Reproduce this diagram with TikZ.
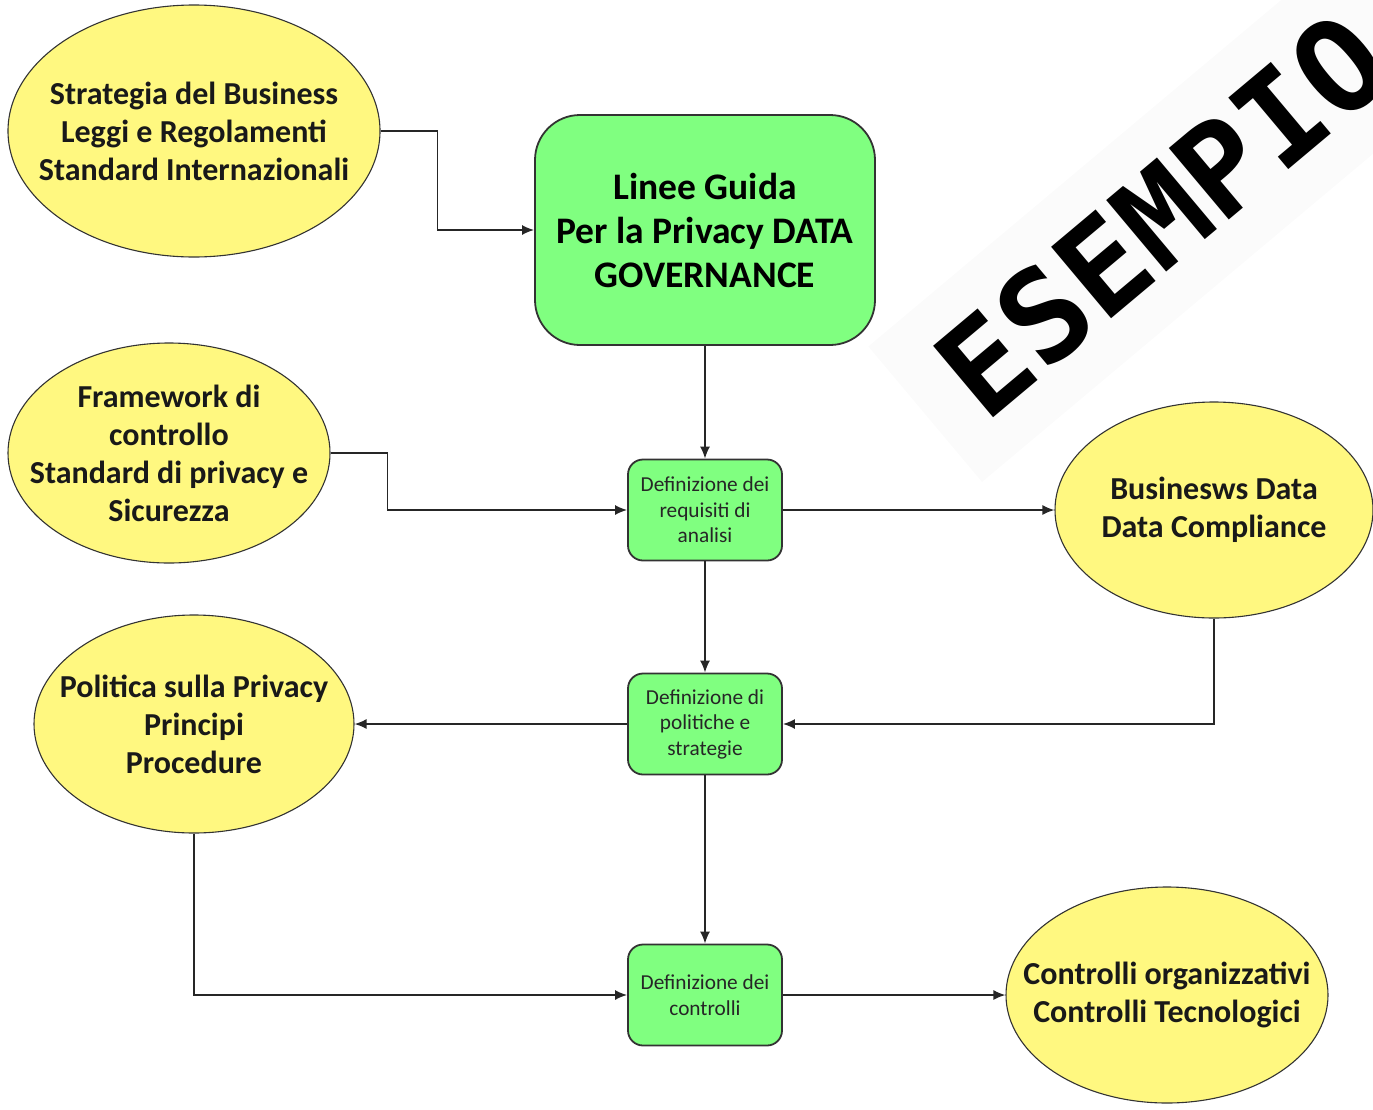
\documentclass[tikz,border=0pt]{standalone}
\usepackage{fontspec}
\setmainfont{Carlito}
\newfontfamily\stampfont{DejaVu Sans Mono}
\usetikzlibrary{shapes.geometric, arrows.meta}

\begin{document}
\begin{tikzpicture}[x=1pt, y=-1pt, >={Latex[length=12pt,width=10pt]},
  conn/.style={draw=black!85, line width=1.6pt},
  oval/.style={ellipse, draw=black!80, line width=1.1pt, fill=yellow!50, inner sep=0pt},
  otext/.style={font=\fontsize{32}{38}\selectfont\bfseries, align=center, text=black!90},
  bigbox/.style={rectangle, rounded corners=45pt, draw=black!80, line width=1.8pt, fill=green!50,
    minimum width=340pt, minimum height=230pt, inner sep=0pt,
    font=\fontsize{37.5}{44}\selectfont\bfseries, align=center},
  stepbox/.style={rectangle, rounded corners=15pt, draw=black!80, line width=1.8pt, fill=green!50,
    minimum width=154pt, minimum height=101pt, inner sep=0pt,
    font=\fontsize{21.3}{25.5}\selectfont, align=center, text=black!85}]
  \useasboundingbox (0,0) rectangle (1373,1109);

  % watermark
  \node[rotate=40, anchor=base west, inner sep=40pt, fill=black!1.5,
    font=\stampfont\bfseries\fontsize{128}{128}\selectfont] (stamp) at (955,450) {ESEMPIO};

  % ovals
  \node[oval, minimum width=372pt, minimum height=252pt,
    label={[otext]center:{Strategia del Business\\Leggi e Regolamenti\\Standard Internazionali}}]
    (strat) at (194,131) {};
  \node[oval, minimum width=322pt, minimum height=220pt,
    label={[otext]center:{Framework di\\controllo\\Standard di privacy e\\Sicurezza}}]
    (frame) at (169,453) {};
  \node[oval, minimum width=318pt, minimum height=216pt,
    label={[otext]center:{Businesws Data\\Data Compliance}}]
    (busdata) at (1214,510) {};
  \node[oval, minimum width=320pt, minimum height=218pt,
    label={[otext]center:{Politica sulla Privacy\\Principi\\Procedure}}]
    (politica) at (194,724) {};
  \node[oval, minimum width=322pt, minimum height=216pt,
    label={[otext]center:{Controlli organizzativi\\Controlli Tecnologici}}]
    (controlli) at (1167,995) {};

  % boxes
  \node[bigbox] (guida) at (705,230) {Linee Guida\\Per la Privacy DATA\\GOVERNANCE};
  \node[stepbox] (req) at (705,510) {Definizione dei\\requisiti di\\analisi};
  \node[stepbox] (polstr) at (705,724) {Definizione di\\politiche e\\strategie};
  \node[stepbox] (defctrl) at (705,995) {Definizione dei\\controlli};

  % connectors
  \draw[conn, ->] (strat.east) -- ++(57,0) |- (guida.west);
  \draw[conn, ->] (guida.south) -- (req.north);
  \draw[conn, ->] (frame.east) -- ++(57,0) |- (req.west);
  \draw[conn, ->] (req.east) -- (busdata.west);
  \draw[conn, ->] (req.south) -- (polstr.north);
  \draw[conn, ->] (busdata.south) |- (polstr.east);
  \draw[conn, ->] (polstr.west) -- (politica.east);
  \draw[conn, ->] (polstr.south) -- (defctrl.north);
  \draw[conn, ->] (politica.south) |- (defctrl.west);
  \draw[conn, ->] (defctrl.east) -- (controlli.west);
\end{tikzpicture}
\end{document}
